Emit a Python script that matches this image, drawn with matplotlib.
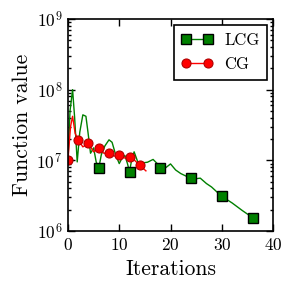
import numpy as np
import matplotlib
matplotlib.use("Agg")
import matplotlib.pyplot as plt

plt.rcParams["font.family"] = "serif"
plt.rcParams["font.serif"] = ["cmr10", "DejaVu Serif"]
plt.rcParams["mathtext.fontset"] = "cm"
plt.rcParams["axes.formatter.use_mathtext"] = True

# LCG: function value along the iterations (markers at whole iterations)
lcg_iter = [0, 0.4, 0.9, 1.3, 1.8, 2.3, 2.9, 3.5, 3.9, 4.4, 5.0, 5.5, 6.0,
            6.5, 7.2, 8.0, 8.6, 9.3, 10.0, 10.6, 11.1, 11.6, 12.0,
            12.4, 12.9, 13.7, 14.5, 15.5, 16.6, 17.4, 18.0,
            19.0, 20.0, 21.0, 22.0, 23.0, 24.0, 25.0, 25.8, 27.0, 28.0, 29.0, 30.0,
            32.0, 34.0, 36.0]
lcg_val = [1.0e7, 5.0e7, 1.0e8, 4.0e7, 9.5e6, 2.5e7, 4.4e7, 4.2e7, 2.5e7, 1.26e7, 1.5e7, 9.5e6, 7.7e6,
           1.2e7, 1.6e7, 1.95e7, 1.8e7, 1.2e7, 9.0e6, 1.1e7, 1.17e7, 9.0e6, 6.9e6,
           1.0e7, 1.32e7, 9.1e6, 9.2e6, 9.4e6, 1.03e7, 9.0e6, 7.7e6,
           7.8e6, 8.9e6, 7.3e6, 6.5e6, 6.0e6, 5.6e6, 5.5e6, 5.6e6, 4.7e6, 4.2e6, 3.6e6, 3.1e6,
           2.5e6, 1.95e6, 1.55e6]
lcg_marks = [6, 12, 18, 24, 30, 36]

# CG
cg_iter = [0, 0.5, 0.9, 1.4, 2.0, 2.9, 4.0, 5.0, 6.0, 7.0, 8.0, 9.0, 10.0,
           11.0, 12.0, 13.0, 14.0, 15.2]
cg_val = [1.01e7, 3.0e7, 4.2e7, 2.4e7, 1.95e7, 1.55e7, 1.74e7, 1.32e7, 1.48e7, 1.26e7,
          1.28e7, 1.15e7, 1.19e7, 1.08e7, 1.12e7, 1.0e7, 8.5e6, 7.1e6]
cg_marks = [0, 2, 4, 6, 8, 10, 12, 14]

fig = plt.figure(figsize=(2.93, 2.91), dpi=100)
ax = fig.add_axes([0.232, 0.206, 0.700, 0.729])

ax.plot(lcg_iter, lcg_val, "-", color="green", lw=1.0, marker="s", ms=6.5,
        mfc="green", mec="black", mew=1.0,
        markevery=[lcg_iter.index(m) for m in lcg_marks], label="LCG")
ax.plot(cg_iter, cg_val, "-", color="red", lw=1.0, marker="o", ms=6.5,
        mfc="red", mec="#b00000", mew=0.8,
        markevery=[cg_iter.index(m) for m in cg_marks], label="CG")

ax.set_yscale("log")
ax.set_xlim(0, 40)
ax.set_ylim(1e6, 1e9)
ax.set_xticks([0, 10, 20, 30, 40])
for sp in ax.spines.values():
    sp.set_linewidth(1.2)
ax.tick_params(which="both", direction="in", top=True, right=True, labelsize=12.5, width=1.0)
ax.tick_params(which="major", length=5, pad=4)
ax.tick_params(which="minor", length=2.5)
ax.set_xlabel("Iterations", fontsize=15.5, labelpad=5)
ax.set_ylabel("Function value", fontsize=15.5, labelpad=3)

leg = ax.legend(loc="upper right", fontsize=12, numpoints=2, fancybox=False,
                edgecolor="black", framealpha=1, handlelength=1.9, handletextpad=0.7,
                borderaxespad=0.35, borderpad=0.45, labelspacing=0.55)
leg.get_frame().set_linewidth(1.2)

fig.savefig("out.png", dpi=100)
